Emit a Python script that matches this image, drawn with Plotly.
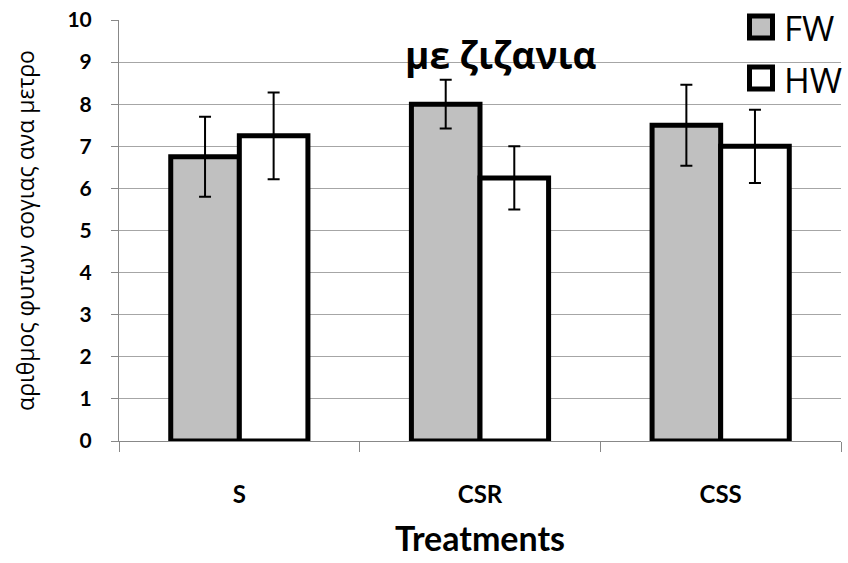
import plotly.graph_objects as go

categories = ["S", "CSR", "CSS"]
fw_values = [6.75, 8.0, 7.5]
fw_errors = [0.95, 0.58, 0.96]
hw_values = [7.25, 6.25, 7.0]
hw_errors = [1.03, 0.75, 0.87]
y_ticks = list(range(0, 11))
series_names = ["FW", "HW"]
series_colors = ["#c0c0c0", "white"]

LATIN = "Lato, 'Open Sans', sans-serif"
GREEK = "'Open Sans', 'Noto Sans', sans-serif"

W, H = 848, 563
L, R, T, B = 119, 7, 20, 122
PW, PH = W - L - R, H - T - B


def px_x(x):
    return (x - L) / PW


def px_y(y):
    return (H - B - y) / PH


fig = go.Figure()
for name, vals, errs, col in [
    (series_names[0], fw_values, fw_errors, series_colors[0]),
    (series_names[1], hw_values, hw_errors, series_colors[1]),
]:
    fig.add_trace(go.Bar(
        name=name, x=categories, y=vals,
        marker=dict(color=col, line=dict(color="black", width=5)),
        error_y=dict(type="data", array=errs, color="black", thickness=2, width=6),
        showlegend=False,
    ))

shapes = []
annotations = []
# manual legend (swatch + label)
for i, (name, col) in enumerate(zip(series_names, series_colors)):
    cy = 27 + i * 51
    shapes.append(dict(
        type="rect", xref="paper", yref="paper",
        x0=px_x(749.5), x1=px_x(772.5), y0=px_y(cy - 11), y1=px_y(cy + 11),
        fillcolor=col, line=dict(color="black", width=5), layer="above",
    ))
    annotations.append(dict(
        text=name, x=px_x(782), y=px_y(cy + 1), xref="paper", yref="paper",
        xanchor="left", yanchor="middle", showarrow=False,
        font=dict(size=35, family=GREEK, color="black"),
    ))

annotations.append(dict(
    text="<b>με ζιζανια</b>", x=px_x(501), y=px_y(54), xref="paper", yref="paper",
    showarrow=False, font=dict(size=37, family=GREEK, color="black"),
    xanchor="center", yanchor="middle",
))

fig.update_layout(
    width=W, height=H,
    margin=dict(l=L, r=R, t=T, b=B),
    paper_bgcolor="white", plot_bgcolor="white",
    barmode="group", bargap=0.43, bargroupgap=0,
    font=dict(family=LATIN, color="black"),
    showlegend=False,
    shapes=shapes,
    annotations=annotations,
)

fig.update_xaxes(
    automargin=False,
    showline=True, linecolor="#888888", linewidth=1,
    ticks="outside", tickson="boundaries", ticklen=10, tickcolor="#888888",
    tickfont=dict(size=24, family=LATIN, weight="bold"),
    ticklabelstandoff=32,
    title=dict(text="<b>Treatments</b>", font=dict(size=34, family=LATIN), standoff=20),
    showgrid=False,
)
fig.update_yaxes(
    automargin=False,
    range=[0, 10], tickvals=y_ticks,
    showline=True, linecolor="#888888", linewidth=1,
    ticks="outside", ticklen=7, tickcolor="#888888",
    tickfont=dict(size=21, family=LATIN, weight="bold"),
    ticklabelstandoff=15,
    showgrid=True, gridcolor="#a6a6a6", gridwidth=1,
    zeroline=False,
    title=dict(text="αριθμος φυτων σογιας ανα μετρο", font=dict(size=23, family=GREEK), standoff=26),
)

# remove the page's default 8px body margin so the figure sits at the window's corner
fig.write_html(
    "out.html",
    config={"displayModeBar": False},
    post_script="document.body.style.margin='0';",
)
